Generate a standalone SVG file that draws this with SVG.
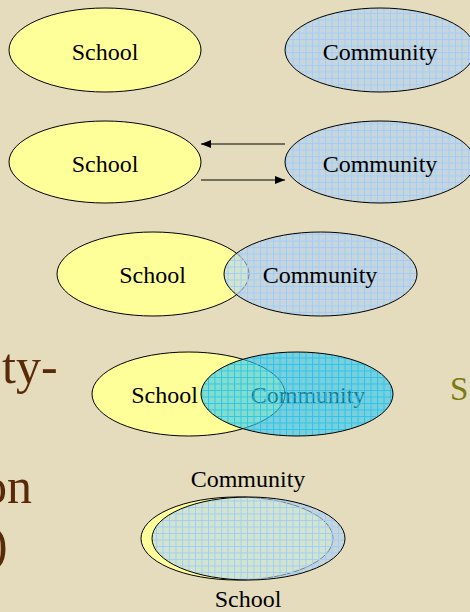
<svg xmlns="http://www.w3.org/2000/svg" width="470" height="612" viewBox="0 0 470 612">
<defs>
<style>
.lbl{font-family:"Liberation Serif","Times New Roman",serif;font-size:24px;fill:#000;text-anchor:middle}
.el{stroke:#000;stroke-width:1}
.sch{fill:#ffff99}
.com{fill:url(#gridBlue)}
.cyan{fill:url(#gridCyan)}
.bg{font-family:"Liberation Serif","Times New Roman",serif;fill:#5a2a08}
.conn{stroke:#000;stroke-width:1;fill:none}
</style>
<pattern id="gridBlue" patternUnits="userSpaceOnUse" width="6.5" height="6.5">
<rect width="6.5" height="6.5" fill="#b2d2f0" fill-opacity="0.6"/>
<path d="M0 0.5H6.5M0.5 0V6.5" stroke="#a2cdf8" stroke-width="1"/>
</pattern>
<pattern id="gridCyan" patternUnits="userSpaceOnUse" width="6.5" height="6.5">
<rect width="6.5" height="6.5" fill="#30c6ee" fill-opacity="0.6"/>
<path d="M0 0.5H6.5M0.5 0V6.5" stroke="#18c2f2" stroke-width="1" stroke-opacity="0.8"/>
</pattern>
<marker id="arr" markerWidth="10" markerHeight="8" refX="10" refY="4" orient="auto" markerUnits="userSpaceOnUse">
<path d="M0 0L10 4L0 8Z" fill="#000"/>
</marker>
</defs>
<rect width="470" height="612" fill="#e5dcbd"/>
<g id="background-text">
<text class="bg" x="2" y="383" font-size="50">ty-</text>
<text class="bg" x="-18" y="503" font-size="50">on</text>
<text class="bg" x="-9" y="561" font-size="50">)</text>
<text x="450" y="400" font-family="Liberation Serif, serif" font-size="33" fill="#7a7a12">S</text>
</g>
<g id="row1-school"><ellipse class="el sch" cx="105" cy="50" rx="96" ry="42"/><text class="lbl" x="105" y="60">School</text></g>
<g id="row1-community"><ellipse class="el com" cx="380" cy="50" rx="95" ry="42"/><text class="lbl" x="380" y="60">Community</text></g>
<g id="row2-school"><ellipse class="el sch" cx="105" cy="162" rx="96" ry="41"/><text class="lbl" x="105" y="172">School</text></g>
<g id="row2-community"><ellipse class="el com" cx="380" cy="162" rx="95" ry="41"/><text class="lbl" x="380" y="172">Community</text></g>
<g id="connectors">
<line class="conn" x1="285" y1="144" x2="201" y2="144" marker-end="url(#arr)"/>
<line class="conn" x1="201" y1="180" x2="285" y2="180" marker-end="url(#arr)"/>
</g>
<g id="row3-school"><ellipse class="el sch" cx="153" cy="274" rx="96" ry="42"/><text class="lbl" x="152.5" y="283">School</text></g>
<g id="row3-community"><ellipse class="el com" cx="320.5" cy="274" rx="96.5" ry="42"/><text class="lbl" x="320" y="283">Community</text></g>
<g id="row4-school"><ellipse class="el sch" cx="188.5" cy="394" rx="96.5" ry="42"/><text class="lbl" x="164.5" y="403">School</text></g>
<g id="row4-community"><text class="lbl" x="308" y="403" style="fill:#000">Community</text><ellipse class="el cyan" cx="297" cy="394" rx="96" ry="42"/></g>
<g id="row5-school"><ellipse class="el sch" cx="237" cy="538.5" rx="96" ry="41.5"/><text class="lbl" x="248" y="607">School</text></g>
<g id="row5-community"><ellipse class="el com" cx="248.5" cy="538.5" rx="96.5" ry="41.5"/><text class="lbl" x="248" y="487">Community</text></g>
</svg>
